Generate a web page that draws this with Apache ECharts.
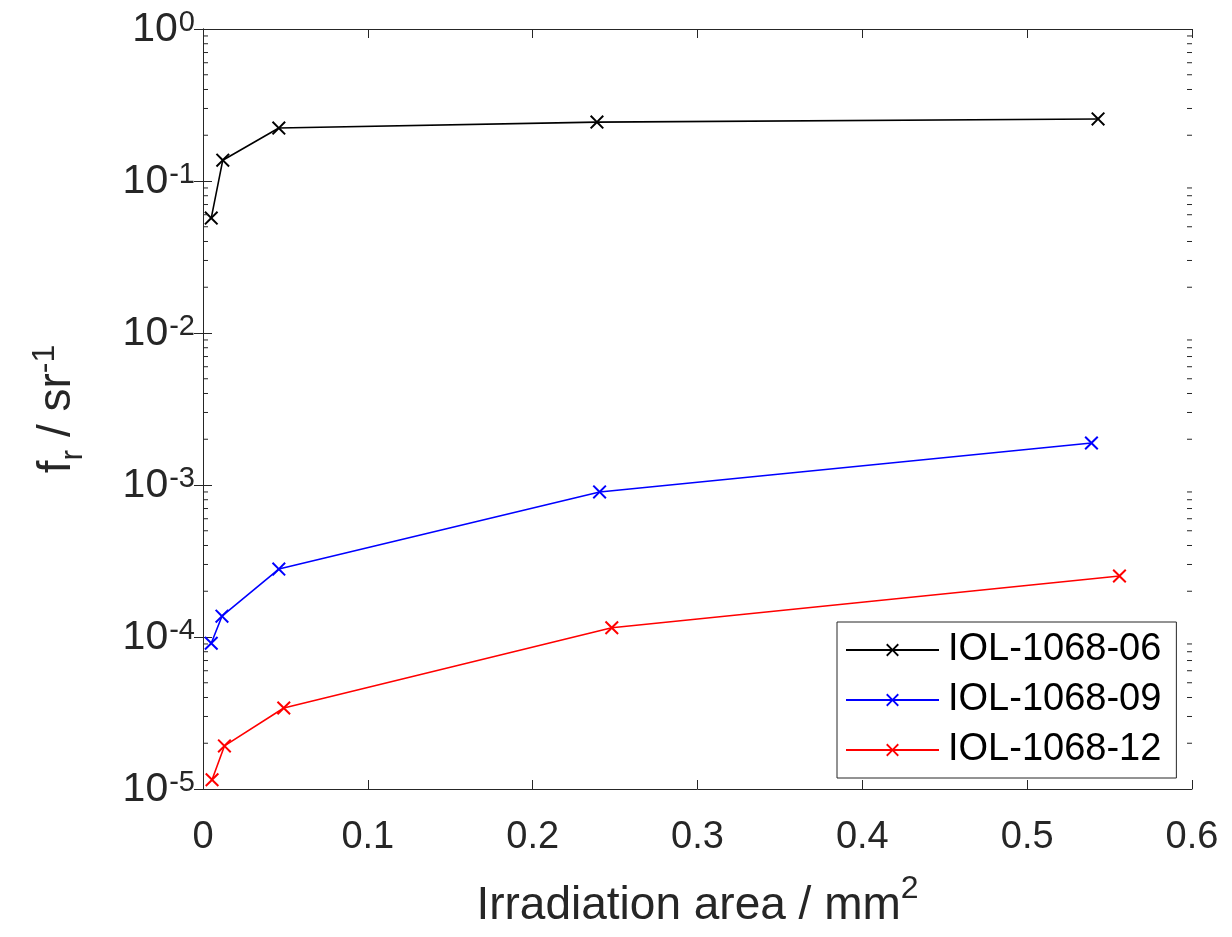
<!DOCTYPE html>
<html>
<head>
<meta charset="utf-8">
<script src="https://cdn.jsdelivr.net/npm/echarts@6/dist/echarts.min.js"></script>
<style>
html,body{margin:0;padding:0;background:#fff;}
#chart{width:1232px;height:937px;}
</style>
</head>
<body>
<div id="chart"></div>
<script>
const seriesNames = ['IOL-1068-06', 'IOL-1068-09', 'IOL-1068-12'];
const xBlack = [0.005, 0.012, 0.046, 0.239, 0.543];
const yBlack = [0.057, 0.137, 0.223, 0.244, 0.256];
const xBlue = [0.005, 0.0115, 0.046, 0.2406, 0.539];
const yBlue = [9.1e-5, 1.37e-4, 2.8e-4, 9.0e-4, 1.89e-3];
const xRed = [0.0055, 0.013, 0.049, 0.248, 0.556];
const yRed = [1.15e-5, 1.92e-5, 3.41e-5, 1.15e-4, 2.52e-4];
const xTickLabels = ['0', '0.1', '0.2', '0.3', '0.4', '0.5', '0.6'];

const colors = ['#000000', '#0000ff', '#ff0000'];
const axisColor = '#262626';
const FONT = 'Liberation Sans, Arial, Helvetica, sans-serif';
const xMark = 'path://M0,1L1,0L5,4L9,0L10,1L6,5L10,9L9,10L5,6L1,10L0,9L4,5Z';

// minor tick positions of the log axis (2..9 x 10^k)
const minorTicks = [];
for (let k = -5; k < 0; k++) {
  for (let m = 2; m <= 9; m++) minorTicks.push(m * Math.pow(10, k));
}

function pairs(xs, ys) { return xs.map((x, i) => [x, ys[i]]); }

const chart = echarts.init(document.getElementById('chart'), null, {renderer: 'canvas'});

function yLabel(v) {
  const e = Math.round(Math.log10(v));
  return '{b|10}{s|' + e + '}';
}

const richTick = {
  b: {fontSize: 41, fontFamily: FONT, color: axisColor, lineHeight: 42, verticalAlign: 'bottom'},
  s: {fontSize: 29, fontFamily: FONT, color: axisColor, lineHeight: 30, verticalAlign: 'top', padding: [0, 0, 20, 1]}
};

const option = {
  backgroundColor: '#ffffff',
  animation: false,
  grid: {left: 203, right: 40, top: 29, bottom: 148, containLabel: false},
  xAxis: [{
    type: 'value', min: 0, max: 0.6, interval: 0.1,
    position: 'bottom',
    axisLine: {show: true, lineStyle: {color: axisColor, width: 1}},
    axisTick: {show: true, inside: true, length: 9, lineStyle: {color: axisColor}},
    splitLine: {show: false},
    axisLabel: {
      margin: 30, fontSize: 38, fontFamily: FONT, color: axisColor,
      formatter: function (v) { return xTickLabels[Math.round(v * 10)]; }
    },
    name: '{a|Irradiation area / mm}{sup|2}',
    nameLocation: 'middle', nameGap: 84,
    nameTextStyle: {
      rich: {
        a: {fontSize: 46, fontFamily: FONT, color: axisColor, lineHeight: 56, verticalAlign: 'bottom'},
        sup: {fontSize: 32, fontFamily: FONT, color: axisColor, lineHeight: 32, verticalAlign: 'top'}
      }
    }
  }, {
    type: 'value', min: 0, max: 0.6, interval: 0.1,
    position: 'top',
    axisLine: {show: true, lineStyle: {color: axisColor, width: 1}},
    axisTick: {show: true, inside: true, length: 9, lineStyle: {color: axisColor}},
    splitLine: {show: false},
    axisLabel: {show: false}
  }],
  yAxis: [{
    type: 'log', logBase: 10, min: 1e-5, max: 1,
    position: 'left',
    axisLine: {show: true, lineStyle: {color: axisColor, width: 1}},
    axisTick: {show: true, inside: true, length: 9, lineStyle: {color: axisColor}},
    splitLine: {show: false},
    minorTick: {show: false},
    axisLabel: {margin: 8, formatter: yLabel, rich: richTick},
    name: '{a|f}{sub|r}{a| / sr}{sup|-1}',
    nameLocation: 'middle', nameGap: 118, nameRotate: 90,
    nameTextStyle: {
      rich: {
        a: {fontSize: 46, fontFamily: FONT, color: axisColor, lineHeight: 56, verticalAlign: 'middle'},
        sub: {fontSize: 32, fontFamily: FONT, color: axisColor, lineHeight: 32, verticalAlign: 'bottom', padding: [0, 0, -4, 0]},
        sup: {fontSize: 32, fontFamily: FONT, color: axisColor, lineHeight: 32, verticalAlign: 'top'}
      }
    }
  }, {
    type: 'log', logBase: 10, min: 1e-5, max: 1,
    position: 'right',
    axisLine: {show: true, lineStyle: {color: axisColor, width: 1}},
    axisTick: {show: true, inside: true, length: 9, lineStyle: {color: axisColor}},
    splitLine: {show: false},
    axisLabel: {show: false}
  }],
  legend: {
    orient: 'vertical', left: 837, top: 622,
    padding: [6, 15, 6, 8],
    itemGap: 6, itemWidth: 93, itemHeight: 16,
    backgroundColor: '#ffffff', borderColor: axisColor, borderWidth: 1,
    textStyle: {fontSize: 38, fontFamily: FONT, color: '#000', lineHeight: 44, padding: [0, 0, 0, 4]},
    data: seriesNames
  },
  series: [
    {name: seriesNames[0], type: 'line', data: pairs(xBlack, yBlack), color: colors[0],
     symbol: xMark, symbolSize: 14, lineStyle: {width: 1.6, color: colors[0]}, itemStyle: {color: colors[0]}},
    {name: seriesNames[1], type: 'line', data: pairs(xBlue, yBlue), color: colors[1],
     symbol: xMark, symbolSize: 14, lineStyle: {width: 1.6, color: colors[1]}, itemStyle: {color: colors[1]}},
    {name: seriesNames[2], type: 'line', data: pairs(xRed, yRed), color: colors[2],
     symbol: xMark, symbolSize: 14, lineStyle: {width: 1.6, color: colors[2]}, itemStyle: {color: colors[2]}},
    {
      type: 'custom', silent: true, clip: false, z: 5,
      data: minorTicks.map(v => [0, v]),
      renderItem: function (params, api) {
        const v = api.value(1);
        const pl = api.coord([0, v]);
        const pr = api.coord([0.6, v]);
        return {
          type: 'group',
          children: [
            {type: 'line', shape: {x1: pl[0], y1: pl[1], x2: pl[0] + 5, y2: pl[1]}, style: {stroke: axisColor, lineWidth: 1}},
            {type: 'line', shape: {x1: pr[0], y1: pr[1], x2: pr[0] - 5, y2: pr[1]}, style: {stroke: axisColor, lineWidth: 1}}
          ]
        };
      }
    }
  ]
};
chart.setOption(option);
</script>
</body>
</html>
